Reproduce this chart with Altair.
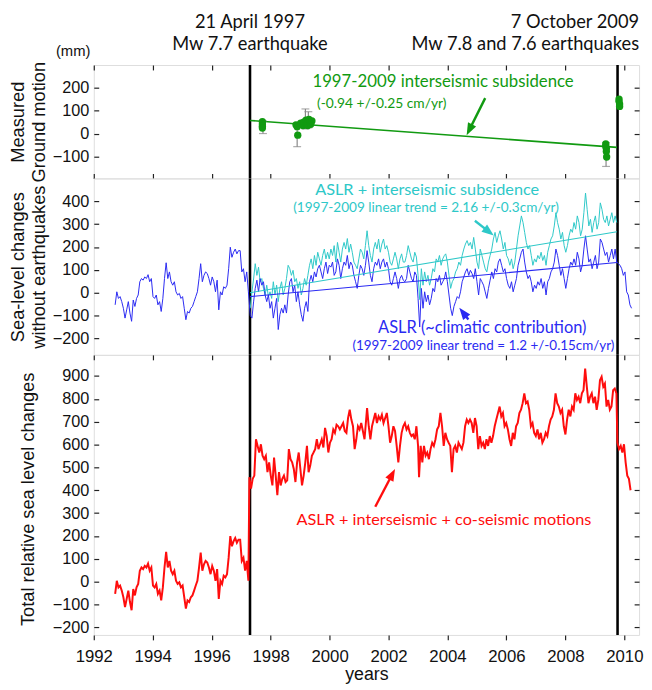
import math
import altair as alt
import pandas as pd

# ---------------- data ----------------
DT = 5 / 89.6

# Pre-1997 sea level (same curve in the middle and bottom panels)
PRE_START = 1992.725
pre_1997 = [-53, 4, -25, -17, -39, -68, -111, -75, -39, -89,
            -125, -32, -60, -25, -10, 48, 62, 55, 69, 62,
            79, 48, 62, -17, -25, -10, -53, -39, -82, -25,
            62, 131, 62, 91, 48, 33, 48, 4, -10, -3,
            -25, -17, -68, -118, -82, -89, -68, -60, -39, -17,
            4, 62, 127, 48, 76, 91, 84, 62, 33, 69,
            48, 4, 55, -75, 4, -10, 26, 19, 33, 105,
            199, 155, 177, 191, 170, 184, 184, 91, 105, 48,
            91, 4]

# ASLR (blue) after the 1997 earthquake
BLUE_A_START = 1997.31
blue_a = [-100, -111, -40, 19, 55, 4, 62, 33, 48, -10,
          -39, -10, -68, -39, -111, -68, -25, -161, -96, -68,
          -89, -53, -89, -10, 48, 62, 4, 33, -39, 4,
          -53, -96, -125, -68, -39, -82, 48, 76, 48, 91,
          69, 105, 120, 91, 62, 105, 134, 84, 120, 112,
          134, 76, 91, 148, 120, 62, 105, 134, 120, 163,
          105, 134, 120, 76, 48, 19, 76, 120, 105, 76,
          120, 184, 134, 76, 48, 105, 134, 120, 148, 105,
          134, 148, 112, 134, 105, 48, 33, 62, 91, 62,
          19, 62, 76, 55, 48, 62, 120, 91, 62, 48,
          91, 76, -25, -150, 19, -68, 4, -39, -10, -53,
          -25, 19, 4, 62, 48, 76, 33, 48, 62]
BLUE_B_START = 2003.94
blue_b = [91, 48, -10, -68, -100, -60, -39, -17, -25, 4,
          48, 69, 91, 105, 76, 98, 84, 62, 105, 48,
          -10, 62, 48, 33, 4, -25, 19, 55, 91, 62,
          105, 91, 134, 148, 120, 91, 105, 62, 33, 19,
          48, 4, 33, 62, 120, 148, 177, 191, 134, 91,
          62, 76, 48, 4, 33, 19, 48, 33, 62, 19,
          48, -10, 48, 62, 91, 105, 134, 191, 163, 120,
          76, 105, 62, 19, 62, 105, 134, 120, 148, 120,
          177, 148, 91, 120, 191, 249, 191, 134, 148, 105,
          134, 163, 105, 134, 235, 220, 191, 163, 177, 134,
          163, 191, 148, 191, 134, 127, 120, 105, 76, 91,
          4, -10, -53, -68]

# ASLR + interseismic subsidence (cyan), 1997-2009
cyan_a = [-68, 4, 60, 127, 76, 112, 48, 62, 19, -10,
          33, -17, 4, -25, 48, -10, 33, -39, 19, 48,
          -10, 19, 62, 120, 105, 76, 98, 48, 62, 19,
          48, -10, 19, 62, 33, 76, 120, 148, 105, 163,
          120, 177, 148, 120, 163, 191, 148, 177, 148, 191,
          163, 206, 134, 220, 177, 134, 191, 220, 191, 237,
          177, 213, 177, 134, 120, 105, 148, 191, 177, 148,
          206, 271, 206, 163, 134, 191, 220, 191, 235, 177,
          213, 235, 191, 206, 177, 134, 120, 148, 177, 148,
          105, 148, 170, 134, 134, 163, 206, 177, 148, 134,
          177, 156, 76, -30, 105, 33, 91, 48, 76, 33,
          62, 105, 91, 148, 134, 163, 120, 148, 163]
cyan_b = [170, 134, 76, 19, 48, 62, 91, 105, 134, 120,
          163, 191, 213, 228, 206, 220, 191, 242, 191, 134,
          105, 191, 163, 134, 105, 91, 134, 163, 191, 235,
          264, 220, 249, 271, 235, 191, 220, 163, 148, 120,
          148, 105, 134, 191, 249, 292, 336, 307, 264, 220,
          191, 206, 163, 120, 148, 134, 163, 148, 177, 141,
          163, 120, 177, 206, 235, 249, 292, 350, 307, 278,
          235, 264, 206, 177, 206, 249, 278, 264, 307, 278,
          336, 307, 249, 278, 350, 436, 364, 292, 321, 264,
          307, 336, 278, 307, 393, 364, 321, 307, 336, 292,
          321, 350, 307, 336, 307]

# Total relative sea level (red) after the 1997 earthquake
RED_A_START = 1997.279
red_a = [457, 407, 450, 464, 623, 594, 565, 601, 551, 536,
         551, 479, 522, 464, 421, 543, 464, 378, 479, 421,
         450, 464, 436, 443, 580, 536, 522, 493, 436, 522,
         565, 493, 421, 464, 522, 594, 479, 508, 551, 565,
         580, 623, 580, 601, 623, 587, 673, 637, 565, 608,
         623, 666, 651, 687, 680, 666, 680, 694, 659, 651,
         716, 752, 709, 680, 580, 623, 680, 666, 694, 659,
         623]
RED_B_START = 2001.272
red_b = [759, 680, 623, 680, 709, 738, 694, 723, 709, 730,
         694, 716, 738, 680, 608, 637, 680, 659, 594, 522,
         594, 651, 680, 694, 666, 680, 651, 637, 644, 623,
         680, 594]
RED_C_START = 2003.035
red_c = [457, 594, 522, 594, 551, 565, 536, 580, 608, 594,
         623, 666, 680, 738, 680, 594, 651, 623, 608, 594,
         479, 580, 594, 565, 608, 594, 580, 608, 680, 709,
         694, 709, 694, 651, 716, 680, 580, 637, 594, 608,
         580, 623, 594, 637, 608, 637, 680, 709, 738, 766,
         723, 738, 680, 694, 666, 623, 594, 651, 623, 680,
         694, 738, 752, 781, 824, 781, 788, 752, 680, 694,
         651, 637, 666, 623, 651, 608, 623, 651, 637, 680,
         709, 723, 752, 824, 781, 766, 738, 752, 680, 644,
         709, 752, 723, 766, 752, 824, 795, 809, 781, 824,
         838, 932, 853, 781, 809, 824, 781, 809, 752, 795,
         881, 896, 853, 867, 766, 795, 752, 766, 838, 845,
         824]
RED_D_START = 2009.765
red_d = [608, 580, 594, 565, 601, 522, 464, 450, 400]

# Earthquake dates
quake_t = [1997.30, 2009.77]

# Measured ground motion (mm)
gm_t = [1997.72, 1997.72, 1997.72, 1997.72, 1998.86, 1998.9, 1998.92, 1999.02,
        1999.1, 1999.12, 1999.2, 1999.22, 1999.26, 1999.3, 1999.33, 1999.36,
        1999.4, 2009.37, 2009.37, 2009.39, 2009.39, 2009.4, 2009.82, 2009.82,
        2009.84, 2009.84]
gm_v = [52, 42, 32, 24, 38, 30, -7, 45, 35, 50, 58, 42, 35, 62, 48, 40, 55,
        -45, -55, -65, -78, -102, 150, 140, 128, 118]
err_t = [1997.74, 1998.9, 1999.18, 1999.28, 2009.38]
err_lo = [0, -57, 20, 25, -143]
err_hi = [55, 40, 107, 95, -40]

# Linear trends (end points 1997.3 -> 2009.75)
trend_t = [1997.3, 2009.75]
trend_green = [57, -60]
trend_cyan = [0, 267]
trend_blue = [-17, 132]

# Tick values
x_ticks = list(range(1992, 2011, 2))
y_ticks_top = [-100, 0, 100, 200]
y_ticks_mid = [-200, -100, 0, 100, 200, 300, 400]
y_ticks_bot = [-200, -100, 0, 100, 200, 300, 400, 500, 600, 700, 800, 900]

# ---------------- layout / style ----------------
W = 553
H_TOP, H_MID, H_BOT = 115, 179, 284
X_DOM = [1992, 2010.5]
DOM_TOP = [-195, 298]
DOM_MID = [-272, 500]
DOM_BOT = [-233, 992]
PXX = W / (X_DOM[1] - X_DOM[0])

AX_FONT = "Liberation Sans"
AN_FONT = "Lato"
GREEN = "#119a11"
BLUE = "#2a2af2"
CYAN = "#2ec8c8"
RED = "#ff0d0d"
INK = "#111111"
TITLE_FS = 18.5


def seg(start, vals):
    return [(start + i * DT, v) for i, v in enumerate(vals)]


blue_df = pd.DataFrame(seg(PRE_START, pre_1997) + seg(BLUE_A_START, blue_a)
                       + seg(BLUE_B_START, blue_b), columns=["t", "v"])
cyan_df = pd.DataFrame(seg(BLUE_A_START, cyan_a) + seg(BLUE_B_START, cyan_b),
                       columns=["t", "v"])
red_df = pd.DataFrame(seg(PRE_START, pre_1997) + seg(RED_A_START, red_a)
                      + seg(RED_B_START, red_b) + seg(RED_C_START, red_c)
                      + seg(RED_D_START, red_d), columns=["t", "v"])
quake_df = pd.DataFrame({"t": quake_t})
gm_df = pd.DataFrame({"t": gm_t, "v": gm_v})
err_df = pd.DataFrame({"t": err_t, "lo": err_lo, "hi": err_hi})
caps_df = pd.DataFrame({"t": err_t * 2, "v": err_lo + err_hi})


def xs():
    return alt.Scale(domain=X_DOM, nice=False, zero=False)


def ys(dom):
    return alt.Scale(domain=dom, nice=False, zero=False)


def X(field="t", axis=None):
    return alt.X(f"{field}:Q", scale=xs(), axis=axis, title=None)


def Y(dom, field="v", axis=None):
    return alt.Y(f"{field}:Q", scale=ys(dom), axis=axis, title=None)


TICK = dict(tickSize=5, tickColor="#222", tickWidth=1.2, domain=False, grid=False)


def left_axis(vals, title, tx, ty):
    return alt.Axis(orient="left", values=vals, offset=-5, labelPadding=5,
                    labelFont=AX_FONT, labelFontSize=16.5, labelColor=INK,
                    title=title, titleFont=AX_FONT, titleFontSize=TITLE_FS,
                    titleFontWeight="normal", titleColor=INK, titleX=tx, titleY=ty,
                    titleAngle=270, titleAlign="center", titleBaseline="bottom",
                    titleLineHeight=21, **TICK)


def right_axis(vals):
    return alt.Axis(orient="right", values=vals, offset=-5, labels=False, title=None, **TICK)


def x_inner(orient):
    return alt.Axis(orient=orient, values=x_ticks, offset=-5, labels=False, title=None, **TICK)


def carriers(dom, ax_x_a, ax_y_a, ax_x_b, ax_y_b):
    c = pd.DataFrame({"t": X_DOM, "v": dom})
    a = alt.Chart(c).mark_point(opacity=0).encode(
        x=alt.X("t:Q", scale=xs(), axis=ax_x_a, title=None),
        y=alt.Y("v:Q", scale=ys(dom), axis=ax_y_a, title=None))
    b = alt.Chart(c).mark_point(opacity=0).encode(
        x=alt.X("t:Q", scale=xs(), axis=ax_x_b, title=None),
        y=alt.Y("v:Q", scale=ys(dom), axis=ax_y_b, title=None))
    return [a, b]


def quakes(dom):
    return alt.Chart(quake_df).mark_rule(color="black", strokeWidth=2.6).encode(x=X())


def texts(rows, dom, align="center", font=AN_FONT):
    df = pd.DataFrame(rows, columns=["t", "v", "txt", "col", "fs"])
    return alt.Chart(df).mark_text(font=font, align=align, baseline="middle").encode(
        x=X(), y=Y(dom), text="txt:N",
        color=alt.Color("col:N", scale=None), size=alt.Size("fs:Q", scale=None))


HEAD = "M0,0L0.75,2L-0.75,2Z"


def arrows(rows, dom, height):
    ppu = height / (dom[1] - dom[0])
    out = []
    for (t0, v0, t1, v1, col) in rows:
        dx = (t1 - t0) * PXX
        dy = -(v1 - v0) * ppu
        L = math.hypot(dx, dy)
        ang = math.degrees(math.atan2(dx, -dy)) % 360
        ux, uy = dx / L, dy / L
        back = 6
        out.append(dict(t0=t0, v0=v0, t1=t1 - ux * back / PXX, v1=v1 + uy * back / ppu,
                        tt=t1, tv=v1, col=col, ang=ang))
    df = pd.DataFrame(out)
    shaft = alt.Chart(df).mark_rule(strokeWidth=2.4).encode(
        x=X("t0"), y=Y(dom, "v0"), x2="t1:Q", y2="v1:Q",
        color=alt.Color("col:N", scale=None))
    head = alt.Chart(df).mark_point(shape=HEAD, filled=True, size=150, opacity=1,
                                    strokeWidth=0).encode(
        x=X("tt"), y=Y(dom, "tv"), angle=alt.Angle("ang:Q", scale=None),
        color=alt.Color("col:N", scale=None))
    return [shaft, head]


def line(df, dom, color, width):
    return alt.Chart(df).mark_line(color=color, strokeWidth=width).encode(
        x=X(), y=Y(dom), order="t:Q")


# ---------------- top panel ----------------
tr_g = pd.DataFrame({"t": trend_t, "v": trend_green})
top_layers = carriers(DOM_TOP, x_inner("bottom"),
                      left_axis(y_ticks_top, ["Measured", "Ground motion"], -72, H_TOP / 2),
                      x_inner("top"), right_axis(y_ticks_top))
top_layers += [
    quakes(DOM_TOP),
    line(tr_g, DOM_TOP, GREEN, 1.6),
    alt.Chart(err_df).mark_rule(color="#888888", strokeWidth=1.2).encode(
        x=X(), y=Y(DOM_TOP, "lo"), y2="hi:Q"),
    alt.Chart(caps_df).mark_tick(color="#888888", orient="horizontal", size=8,
                                 thickness=1.2).encode(x=X(), y=Y(DOM_TOP)),
    alt.Chart(gm_df).mark_circle(color=GREEN, size=55, opacity=1).encode(x=X(), y=Y(DOM_TOP)),
    texts([(2003.85, 223, "1997-2009 interseismic subsidence", GREEN, 17),
           (2001.77, 128, "(-0.94 +/-0.25 cm/yr)", GREEN, 14),
           (1997.30, 483, "21 April 1997", INK, 18.5),
           (1997.30, 389, "Mw 7.7 earthquake", INK, 18.5)], DOM_TOP),
    texts([(2010.5, 483, "7 October 2009", INK, 18.5),
           (2010.5, 389, "Mw 7.8 and 7.6 earthquakes", INK, 18.5)], DOM_TOP, align="right"),
    texts([(1991.3, 357, "(mm)", INK, 15)], DOM_TOP, font=AX_FONT),
]
top_layers += arrows([(2005.28, 154, 2004.65, -7, GREEN)], DOM_TOP, H_TOP)
top = alt.layer(*top_layers).properties(width=W, height=H_TOP).resolve_axis(
    x="independent", y="independent")

# ---------------- middle panel ----------------
tr_c = pd.DataFrame({"t": trend_t, "v": trend_cyan})
tr_b = pd.DataFrame({"t": trend_t, "v": trend_blue})
mid_layers = carriers(DOM_MID, None,
                      left_axis(y_ticks_mid, ["Sea-level changes", "without earthquakes"],
                                -72, H_MID / 2),
                      None, right_axis(y_ticks_mid))
mid_layers += [
    quakes(DOM_MID),
    line(cyan_df, DOM_MID, CYAN, 1.0),
    line(blue_df, DOM_MID, BLUE, 1.0),
    line(tr_c, DOM_MID, CYAN, 1.1),
    line(tr_b, DOM_MID, BLUE, 1.1),
    texts([(2003.31, 450, "ASLR + interseismic subsidence", CYAN, 16.5),
           (2003.27, 372, "(1997-2009 linear trend = 2.16 +/-0.3cm/yr)", CYAN, 13.8),
           (2005.18, -153, "ASLR (~climatic contribution)", BLUE, 16.6),
           (2005.22, -232, "(1997-2009 linear trend = 1.2 +/-0.15cm/yr)", BLUE, 13.6)],
          DOM_MID),
]
mid_layers += arrows([(2004.93, 315, 2005.57, 250, CYAN),
                      (2004.71, -117, 2004.40, -66, BLUE)], DOM_MID, H_MID)
mid = alt.layer(*mid_layers).properties(width=W, height=H_MID).resolve_axis(
    x="independent", y="independent")

# ---------------- bottom panel ----------------
x_bottom = alt.Axis(orient="bottom", values=x_ticks, format="d", labelFont=AX_FONT,
                    labelFontSize=17, labelColor=INK, labelPadding=9, labelFlush=False,
                    title="years", titleFont=AX_FONT, titleFontSize=18,
                    titleFontWeight="normal", titleColor=INK, titlePadding=1, **TICK)
bot_layers = carriers(DOM_BOT, x_bottom,
                      left_axis(y_ticks_bot, "Total relative sea level changes", -62,
                                H_BOT / 2 + 4),
                      x_inner("top"), right_axis(y_ticks_bot))
bot_layers += [
    quakes(DOM_BOT),
    line(red_df, DOM_BOT, RED, 2.0),
    texts([(2003.88, 269, "ASLR + interseismic + co-seismic motions", RED, 16.5)], DOM_BOT),
]
bot_layers += arrows([(2001.55, 328, 2002.22, 493, RED)], DOM_BOT, H_BOT)
bot = alt.layer(*bot_layers).properties(width=W, height=H_BOT).resolve_axis(
    x="independent", y="independent")

chart = alt.vconcat(top, mid, bot, spacing=0, bounds="flush").properties(
    padding={"left": 0, "top": 0, "right": 0, "bottom": 0}
).configure_view(stroke="#222", strokeWidth=1.5).configure(font=AX_FONT)

chart.save("out.html", embed_options={"renderer": "svg", "actions": False})
